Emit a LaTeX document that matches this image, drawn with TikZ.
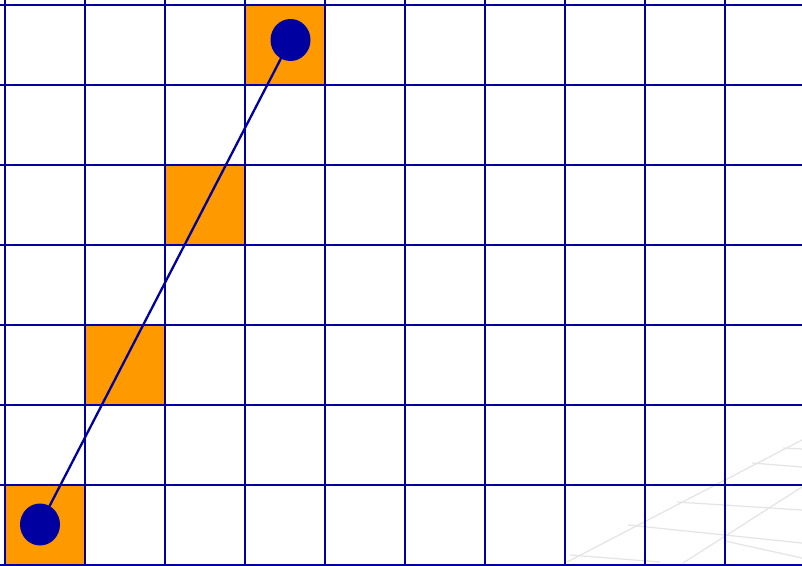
\documentclass[tikz,border=0pt]{standalone}
\usetikzlibrary{shapes.geometric}
\definecolor{gridblue}{RGB}{0,0,160}
\definecolor{cellorange}{RGB}{255,153,0}
\definecolor{faint}{RGB}{228,228,228}
\tikzset{
  gridline/.style={draw=gridblue, line width=2.8pt},
  hit/.style={fill=cellorange, draw=none, minimum width=80pt, minimum height=80pt, inner sep=0pt, outer sep=0pt},
  dot/.style={ellipse, fill=gridblue, draw=none, minimum width=40pt, minimum height=42pt, inner sep=0pt},
  link/.style={draw=gridblue, line width=2.3pt},
  ghost/.style={draw=faint, line width=1.2pt}
}
\begin{document}
\begin{tikzpicture}[x=1pt,y=-1pt]
\useasboundingbox (0,0) rectangle (802,565);
\clip (0,0) rectangle (802,565);
\fill[white] (0,0) rectangle (802,565);
% faint background perspective grid
\draw[ghost] (567,562) -- (802,440);
\draw[ghost] (683,563) -- (802,487);
\draw[ghost] (570,555) -- (660,562);
\draw[ghost] (628,525) -- (802,543);
\draw[ghost] (677,502) -- (802,510);
\draw[ghost] (752,463) -- (802,467);
\draw[ghost] (783,448) -- (802,449);
\draw[ghost] (725,541) -- (802,558);
% orange cells
\node[hit] (c1) at (285,45) {};
\node[hit] (c2) at (205,205) {};
\node[hit] (c3) at (125,365) {};
\node[hit] (c4) at (45,525) {};
% grid
\foreach \x in {5,85,...,805} \draw[gridline] (\x,0) -- (\x,570);
\foreach \y in {5,85,...,565} \draw[gridline] (0,\y) -- (810,\y);
% endpoints and link
\node[dot] (top) at (290.5,40) {};
\node[dot] (bot) at (40,524.5) {};
\draw[link] (top.center) -- (bot.center);
\end{tikzpicture}
\end{document}
